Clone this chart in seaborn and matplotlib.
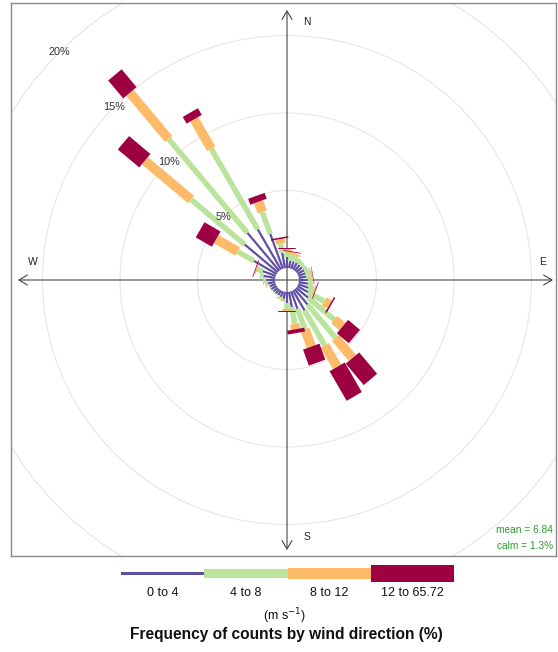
import numpy as np
import matplotlib
matplotlib.use("Agg")
import matplotlib.pyplot as plt
from matplotlib.patches import Circle, Rectangle
import seaborn as sns

# ---------------- data ----------------
directions = [10, 20, 30, 40, 50, 60, 70, 80, 90, 100, 110, 120,
              130, 140, 150, 160, 170, 180, 190, 200, 210, 220, 230, 240,
              250, 260, 270, 280, 290, 300, 310, 320, 330, 340, 350, 360]
ws_0_4 = [0.5, 0.5, 0.5, 0.5, 0.5, 0.5, 0.5, 0.5, 0.55, 0.6, 0.7, 0.8,
          1.0, 1.3, 1.5, 1.2, 1.0, 0.7, 0.5, 0.4, 0.35, 0.35, 0.35, 0.4,
          0.4, 0.5, 0.6, 0.8, 0.9, 1.7, 2.8, 3.2, 3.0, 2.4, 1.0, 0.7]
ws_4_8 = [0.4, 0.4, 0.3, 0.25, 0.2, 0.25, 0.3, 0.3, 0.3, 0.35, 0.35, 1.2,
          2.2, 2.8, 2.6, 1.4, 1.1, 0.4, 0.15, 0.1, 0.05, 0.05, 0.05, 0.05,
          0.05, 0.1, 0.1, 0.2, 0.35, 1.2, 4.5, 7.9, 6.0, 1.5, 0.6, 0.4]
ws_8_12 = [0.15, 0.1, 0.0, 0.0, 0.0, 0.0, 0.05, 0.1, 0.0, 0.0, 0.1, 0.4,
           0.7, 1.7, 1.6, 1.2, 0.35, 0.15, 0.0, 0.05, 0.0, 0.0, 0.0, 0.0,
           0.0, 0.05, 0.05, 0.0, 0.1, 1.6, 3.9, 3.9, 2.2, 0.7, 0.3, 0.15]
ws_12_max = [0.05, 0.0, 0.0, 0.0, 0.0, 0.0, 0.0, 0.03, 0.0, 0.0, 0.05, 0.1,
             1.0, 1.8, 2.2, 1.1, 0.25, 0.05, 0.0, 0.0, 0.0, 0.0, 0.0, 0.0,
             0.0, 0.0, 0.0, 0.0, 0.05, 1.2, 1.8, 1.5, 0.5, 0.4, 0.1, 0.05]
bin_labels = ["0 to 4", "4 to 8", "8 to 12", "12 to 65.72"]
grid_levels = [5, 10, 15, 20]
grid_labels = ["5%", "10%", "15%", "20%"]
compass = ["N", "E", "S", "W"]
mean_ws = 6.84
calm_pct = 1.3

# ---------------- style ----------------
sns.set_theme(style="white")
plt.rcParams['font.family'] = ['Liberation Sans', 'DejaVu Sans']
colors = ["#5E4FA2", "#BAE39B", "#FDBB6A", "#9E0142"]
widths_px = [2.2, 5.5, 9.5, 17.5]
DPI = 100
PX_PER_PCT = 15.5
offset = 12 / PX_PER_PCT

W, H = 558, 652
fig = plt.figure(figsize=(W / DPI, H / DPI), dpi=DPI)
fig.patch.set_facecolor("white")

# main panel in pixel placement
L, R, T, B = 11, 556, 3, 556
ax = fig.add_axes([L / W, 1 - B / H, (R - L) / W, (B - T) / H])
cx, cy = 287, 280
ax.set_xlim((L - cx) / PX_PER_PCT, (R - cx) / PX_PER_PCT)
ax.set_ylim((cy - B) / PX_PER_PCT, (cy - T) / PX_PER_PCT)
ax.set_xticks([]); ax.set_yticks([])
for s in ax.spines.values():
    s.set_color("#8a8a8a"); s.set_linewidth(1.0)

# grid circles
for lev, lab in zip(grid_levels, grid_labels):
    ax.add_patch(Circle((0, 0), lev + offset, fill=False, ec="#e6e6e6", lw=0.8, zorder=1))
    ang = np.deg2rad(315)
    ax.text((lev + offset) * np.sin(ang), (lev + offset) * np.cos(ang), lab,
            ha="center", va="center", fontsize=7.8, color="#333333", zorder=5)

# axis lines with arrows
hx0, hx1 = (18 - cx) / PX_PER_PCT, (553 - cx) / PX_PER_PCT
vy0, vy1 = (cy - 550) / PX_PER_PCT, (cy - 10) / PX_PER_PCT
ax.annotate("", xy=(hx0, 0), xytext=(hx1, 0),
            arrowprops=dict(arrowstyle="<->,head_length=0.5,head_width=0.3", color="#444444", lw=0.8, shrinkA=0, shrinkB=0), zorder=2)
ax.annotate("", xy=(0, vy0), xytext=(0, vy1),
            arrowprops=dict(arrowstyle="<->,head_length=0.5,head_width=0.3", color="#444444", lw=0.8, shrinkA=0, shrinkB=0), zorder=2)
ax.text((307 - cx) / PX_PER_PCT, (cy - 22) / PX_PER_PCT, compass[0], fontsize=7.5, ha="center", va="center", color="#222222")
ax.text((307 - cx) / PX_PER_PCT, (cy - 537) / PX_PER_PCT, compass[2], fontsize=7.5, ha="center", va="center", color="#222222")
ax.text((543 - cx) / PX_PER_PCT, (cy - 262) / PX_PER_PCT, compass[1], fontsize=7.5, ha="center", va="center", color="#222222")
ax.text((33 - cx) / PX_PER_PCT, (cy - 262) / PX_PER_PCT, compass[3], fontsize=7.5, ha="center", va="center", color="#222222")

# bars
series = [ws_0_4, ws_4_8, ws_8_12, ws_12_max]
cum = np.zeros(len(directions))
th = np.deg2rad(directions)
for k, vals in enumerate(series):
    vals = np.asarray(vals, dtype=float)
    start = cum + offset
    end = cum + vals + offset
    for i in range(len(directions)):
        if vals[i] <= 0:
            continue
        ax.plot([start[i] * np.sin(th[i]), end[i] * np.sin(th[i])],
                [start[i] * np.cos(th[i]), end[i] * np.cos(th[i])],
                color=colors[k], lw=widths_px[k] * 72 / DPI,
                solid_capstyle="butt", zorder=3 + k * 0.01)
    cum = cum + vals

# mean / calm annotation
ax.text((553 - cx) / PX_PER_PCT, (cy - 530) / PX_PER_PCT, f"mean = {mean_ws}",
        ha="right", va="center", fontsize=7.3, color="#2e9b2e")
ax.text((553 - cx) / PX_PER_PCT, (cy - 546) / PX_PER_PCT, f"calm = {calm_pct}%",
        ha="right", va="center", fontsize=7.3, color="#2e9b2e")

# legend key
kx0, kx1, ky0, ky1 = 121, 454, 562, 585
kax = fig.add_axes([kx0 / W, 1 - ky1 / H, (kx1 - kx0) / W, (ky1 - ky0) / H])
kax.set_xlim(0, len(bin_labels))
kax.set_ylim(-(ky1 - ky0) / 2, (ky1 - ky0) / 2)
kax.axis("off")
key_h = [3, 9, 11, 17.5]
for i, (c, h) in enumerate(zip(colors, key_h)):
    kax.add_patch(Rectangle((i, -h / 2), 1, h, color=c, lw=0))
for i, lab in enumerate(bin_labels):
    fig.text((kx0 + (i + 0.5) * (kx1 - kx0) / 4) / W, 1 - 593.5 / H, lab,
             ha="center", va="center", fontsize=9, color="#111111")
fig.text(285 / W, 1 - 616 / H, r"(m s$^{-1}$)", ha="center", va="center", fontsize=9, color="#111111")
fig.text(286 / W, 1 - 635 / H, "Frequency of counts by wind direction (%)",
         ha="center", va="center", fontsize=11.2, fontweight="bold", color="#111111")

fig.savefig("out.png", dpi=DPI, facecolor="white")
